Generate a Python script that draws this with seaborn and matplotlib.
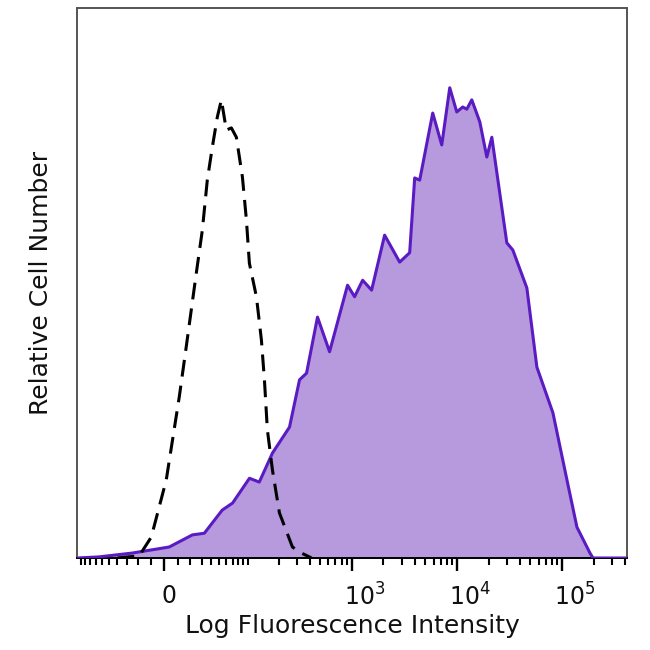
import numpy as np
import pandas as pd
import matplotlib
matplotlib.use("Agg")
import matplotlib.pyplot as plt
import matplotlib.transforms as mtransforms
import seaborn as sns

# -------------------- DATA --------------------
# stained sample (filled purple), intensity vs relative count (% of axis)
stained_x = [-109, -65, -25, 3.6, 21.6, 32.8, 54, 70, 104, 130, 175, 255, 318, 371,
             472, 615, 912, 1064, 1269, 1545, 2054, 2855, 3554, 3967, 4426, 5889,
             7173, 8547, 9964, 11364, 12408, 13844, 16500, 19240, 21470, 29820,
             34000, 46230, 57570, 81770, 111180, 138400, 184100, 196700, 414000]
stained_y = [0, 0.2, 0.9, 2.0, 4.2, 4.5, 8.7, 10.0, 14.5, 13.8, 19.1, 23.8, 32.4, 33.6,
             43.8, 37.5, 49.6, 47.5, 50.5, 48.7, 58.7, 53.8, 55.5, 69.1, 68.7, 80.9,
             75.1, 85.5, 81.1, 82.0, 81.6, 83.3, 79.3, 72.9, 76.5, 57.3,
             56.0, 49.1, 34.7, 26.4, 14.2, 5.6, 0.9, 0, 0]

# isotype control (dashed black)
control_x = [-40, -19, -9.5, 1.45, 11.05, 16.5, 25.1, 30.8, 35.9, 41.5, 47.6, 52.9,
             60.0, 67.9, 76.6, 88.3, 96.9, 103.8, 121.9, 136.5, 146, 156, 174.7,
             204, 272, 332, 414]
control_y = [0, 0.4, 3.8, 14.2, 29.3, 38.4, 51.8, 59.6, 68.7, 74.7, 80.2, 83.3,
             77.8, 78.2, 76.5, 69.3, 61.5, 53.6, 47.5, 39.6, 32.4, 23.3, 16.0,
             8.2, 2.0, 0.9, 0]

major_ticks = [0, 1e3, 1e4, 1e5]
major_labels = ["0", "$10^3$", "$10^4$", "$10^5$"]
unlabeled_long = [-100, 100]

x_range = (-109, 414000)
lin_width = 33.0

stained = pd.DataFrame({"x": stained_x, "y": stained_y})
control = pd.DataFrame({"x": control_x, "y": control_y})

# -------------------- PLOT --------------------
sns.set_style("white")
plt.rcParams["font.family"] = ["DejaVu Sans"]

fig = plt.figure(figsize=(6.5, 6.5), dpi=100)
ax = fig.add_axes([77 / 650, 92 / 650, 550 / 650, 550 / 650])

# biexponential-like axis (asinh)
ax.set_xscale("function",
              functions=(lambda v: np.arcsinh(np.asarray(v) / lin_width),
                         lambda v: lin_width * np.sinh(np.asarray(v))))

ax.fill_between(stained["x"], 0, stained["y"], color="#B799DD", linewidth=0, zorder=1)
sns.lineplot(data=stained, x="x", y="y", ax=ax, sort=False, estimator=None,
             color="#5A1CC2", linewidth=2.2, zorder=3)
sns.lineplot(data=control, x="x", y="y", ax=ax, sort=False, estimator=None,
             color="black", linewidth=2.2, dashes=False, zorder=4)
ax.lines[-1].set_dashes((5.5, 3.0))

ax.set_xlim(*x_range)
ax.set_ylim(0, 100)
ax.set_yticks([])

# ticks
minor = []
for s in (-1, 1):
    minor += [s * v for v in range(10, 100, 10)]
for dec in (1e2, 1e3, 1e4, 1e5):
    minor += [m * dec for m in range(2, 10)]
minor = [m for m in minor if x_range[0] < m < x_range[1]]
minor += unlabeled_long
ax.set_xticks(major_ticks)
ax.set_xticklabels(major_labels)
ax.set_xticks(minor, minor=True)
ax.tick_params(axis="x", which="major", direction="out", length=9.5, width=1.7,
               color="black", labelsize=17, labelcolor="#111111", pad=9, bottom=True)
ax.tick_params(axis="x", which="minor", direction="out", length=5, width=1.5,
               color="black", bottom=True)

for lab, dx in zip(ax.get_xticklabels(), [5, 13, 13, 13]):
    lab.set_transform(lab.get_transform() +
                      mtransforms.ScaledTranslation(dx / 100, 0, fig.dpi_scale_trans))

for sp in ax.spines.values():
    sp.set_color("#555555")
    sp.set_linewidth(1.4)
ax.spines["bottom"].set_color("black")

ax.set_xlabel("Log Fluorescence Intensity", fontsize=18, labelpad=2, color="#111111")
ax.set_ylabel("Relative Cell Number", fontsize=18, labelpad=17, color="#111111")

fig.savefig("out.png", dpi=100)
